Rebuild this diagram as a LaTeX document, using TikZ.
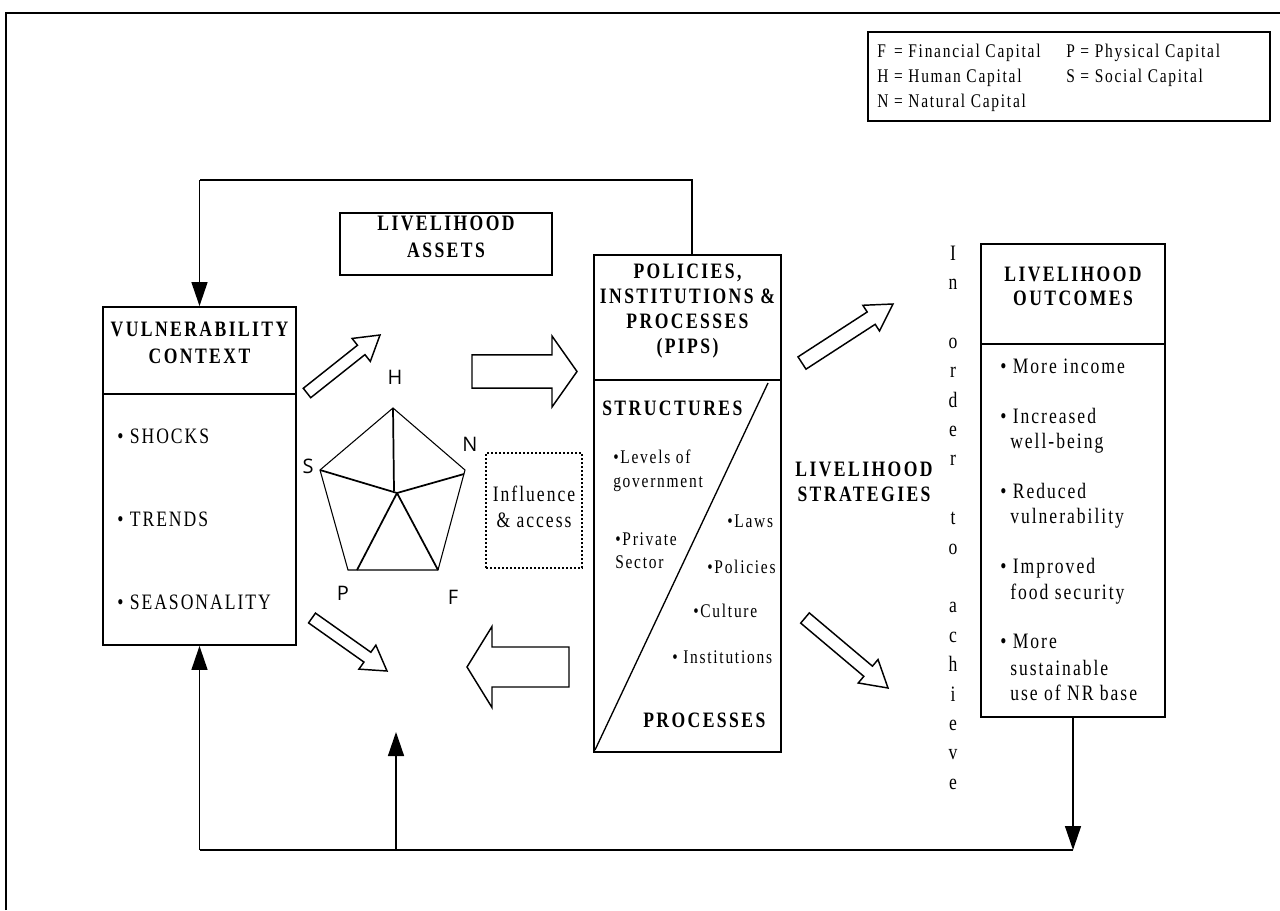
\documentclass[tikz,border=0pt]{standalone}
\usepackage{fontspec}
\setmainfont{Liberation Serif}[FakeStretch=0.8,LetterSpace=9]
\newfontfamily\labfont{Open Sans}
\usetikzlibrary{arrows.meta,calc,fit}
\tikzset{
  box/.style={draw, line width=1.4pt, inner sep=0pt},
  dotbox/.style={draw, line width=1.3pt, dash pattern=on 1.6pt off 1.4pt, inner sep=0pt},
  txt/.style={inner sep=0pt, font=\fontsize{16.5}{18.75}\selectfont},
  stxt/.style={inner sep=0pt, anchor=base west, font=\fontsize{14.5}{17}\selectfont},
  btxt/.style={inner sep=0pt, align=center, font=\fontsize{16.5}{#1}\selectfont\bfseries\addfontfeature{LetterSpace=11}},
  btxt/.default=18.75,
  lgd/.style={inner sep=0pt, anchor=base west, font=\fontsize{14.5}{17}\selectfont},
  lab/.style={inner sep=0pt, font=\labfont\fontsize{15}{18}\selectfont},
  conn/.style={line width=1.1pt, -{Triangle[length=18pt,width=12pt]}},
  plainline/.style={line width=1.1pt},
  hollow/.style={draw, line width=1.1pt, line join=miter, fill=white},
  pent/.style={line width=0.8pt},
  spoke/.style={line width=1.3pt},
}
\newcommand{\blockarrow}[6]{%
  \coordinate (#1t) at #2; \coordinate (#1h) at #3;
  \coordinate (#1b) at ($(#1h)!#6!(#1t)$);
  \draw[hollow] ($(#1t)!#4!90:(#1h)$) -- ($(#1b)!#4!90:(#1h)$) -- ($(#1b)!#5!90:(#1h)$) -- (#1h)
     -- ($(#1b)!#5!-90:(#1h)$) -- ($(#1b)!#4!-90:(#1h)$) -- ($(#1t)!#4!-90:(#1h)$) -- cycle;}
\begin{document}
\begin{tikzpicture}[x=0.75pt,y=-0.75pt]
\useasboundingbox (0,0) rectangle (1280,910);
% frame
\draw[line width=1.3pt] (6,910) -- (6,12.7) -- (1280,12.7);
% legend
\node[box, fit={(868,32)(1270,121)}] (leg) {};
\node[lgd] (l1) at (877,57) {\rlap{F}\hphantom{H} = Financial Capital};
\node[lgd] (l2) at (1066,57) {P = Physical Capital};
\node[lgd] (l3) at (877,82) {H = Human Capital};
\node[lgd] (l4) at (1066,82) {S = Social Capital};
\node[lgd] (l5) at (877,107) {N = Natural Capital};
% livelihood assets
\node[box, btxt=20.25, fit={(340,213)(552,275)}] (la) {LIVELIHOOD\\ASSETS};
% vulnerability context
\node[box, btxt=20.25, fit={(103,307)(296,394)}] (vch) {VULNERABILITY\\CONTEXT};
\node[box, fit={(103,394)(296,645)}] (vcb) {};
\node[txt, anchor=base west] (vc1) at (117,443) {• SHOCKS};
\node[txt, anchor=base west] (vc2) at (117,526) {• TRENDS};
\node[txt, anchor=base west] (vc3) at (117,609) {• SEASONALITY};
% PIPS
\node[box, fit={(594,255)(781,380)}] (pipsh) {};
\node[btxt] (pipst) at (687.5,311) {POLICIES,\\INSTITUTIONS \&\\PROCESSES\\(PIPS)};
\node[box, fit={(594,380)(781,752)}] (pipsb) {};
\coordinate (dgA) at (768,383);
\coordinate (dgB) at (595,750);
\draw[line width=1pt] (dgA) -- (dgB);
\node[btxt, anchor=base west] (struc) at (602,415) {STRUCTURES};
\node[stxt] (p1) at (613,463) {•Levels of};
\node[stxt] (p1b) at (613,487) {government};
\node[stxt] (p2) at (615,545) {•Private};
\node[stxt] (p2b) at (615,568) {Sector};
\node[stxt] (p3) at (727,527) {•Laws};
\node[stxt] (p4) at (707,573) {•Policies};
\node[stxt] (p5) at (693,617) {•Culture};
\node[stxt] (p6) at (672,663) {• Institutions};
\node[btxt, anchor=base west] (proc) at (643,727) {PROCESSES};
% livelihood outcomes
\node[box, btxt=18, fit={(981,244)(1165,344)}] (loh) {LIVELIHOOD\\OUTCOMES};
\node[box, fit={(981,344)(1165,717)}] (lob) {};
\node[txt, anchor=base west] (o1) at (1000,373) {• More income};
\node[txt, anchor=base west] (o2) at (1000,423) {• Increased};
\node[txt, anchor=base west] (o2b) at (1010,448) {well-being};
\node[txt, anchor=base west] (o3) at (1000,498) {• Reduced};
\node[txt, anchor=base west] (o3b) at (1010,523) {vulnerability};
\node[txt, anchor=base west] (o4) at (1000,573) {• Improved};
\node[txt, anchor=base west] (o4b) at (1010,599) {food security};
\node[txt, anchor=base west] (o5) at (1000,648) {• More};
\node[txt, anchor=base west] (o5b) at (1010,675) {sustainable};
\node[txt, anchor=base west] (o5c) at (1010,700) {use of NR base};
% livelihood strategies
\node[btxt] (ls) at (864,482) {LIVELIHOOD\\STRATEGIES};
% in order to achieve
\foreach \k/\c in {0/I,1/n,3/o,4/r,5/d,6/e,7/r,9/t,10/o,12/a,13/c,14/h,15/i,16/e,17/v,18/e}
  \node[txt, anchor=base] (io\k) at (953,{260+\k*29.4}) {\c};
% pentagon
\coordinate (pT) at (393,408);
\coordinate (pR) at (465,470);
\coordinate (pBR) at (438,570);
\coordinate (pBL) at (348,570);
\coordinate (pL) at (320,470);
\coordinate (pC) at (397,493);
\coordinate (pCt) at (394,491);
\coordinate (pRs) at (464,474);
\coordinate (pBs) at (357,570);
\draw[pent] (pT) -- (pR) -- (pBR) -- (pBL) -- (pL) -- cycle;
\draw[spoke] (pT) -- (pCt);
\draw[spoke] (pL) -- (pC) -- (pRs);
\draw[spoke] (pC) -- (pBs);
\draw[spoke] (pC) -- (pBR);
\node[lab] (lH) at (395,377) {H};
\node[lab] (lS) at (308,466) {S};
\node[lab] (lN) at (470,444) {N};
\node[lab] (lP) at (343,593) {P};
\node[lab] (lF) at (453,597) {F};
% influence & access
\node[dotbox, fit={(486,453)(582,568)}] (infl) {};
\node[txt, align=center, font=\fontsize{16.5}{19.5}\selectfont] (inflt) at (534,507) {Influence\\\& access};
% block arrows
\blockarrow{ar}{(472,371.5)}{(577,371.5)}{12.4pt}{26.6pt}{18.75pt}
\blockarrow{al}{(569,667)}{(467,667)}{15pt}{30.4pt}{18.75pt}
\blockarrow{aa}{(307,393)}{(380,335)}{4.5pt}{11pt}{18pt}
\blockarrow{ab}{(312,618)}{(387,671)}{4.5pt}{11pt}{18pt}
\blockarrow{ac}{(802,363)}{(893,304)}{5.5pt}{11.5pt}{19.5pt}
\blockarrow{ad}{(805,618)}{(888,688)}{5pt}{11.5pt}{19.5pt}
% feedback connectors
\coordinate (toplevel) at (0,180);
\coordinate (pipsup) at ($(pipsh.north)+(4.5,0)$);
\draw[plainline] (pipsup) -- (pipsup |- toplevel) -- (vch.north |- toplevel);
\draw[conn] (vch.north |- toplevel) -- (vch.north);
\coordinate (bline) at (0,850);
\coordinate (upend) at (396,732);
\draw[conn] (lob.south) -- (lob.south |- bline);
\draw[plainline] (lob.south |- bline) -- (vcb.south |- bline);
\draw[conn] (vcb.south |- bline) -- (vcb.south);
\draw[conn] (upend |- bline) -- (upend);
\end{tikzpicture}
\end{document}
